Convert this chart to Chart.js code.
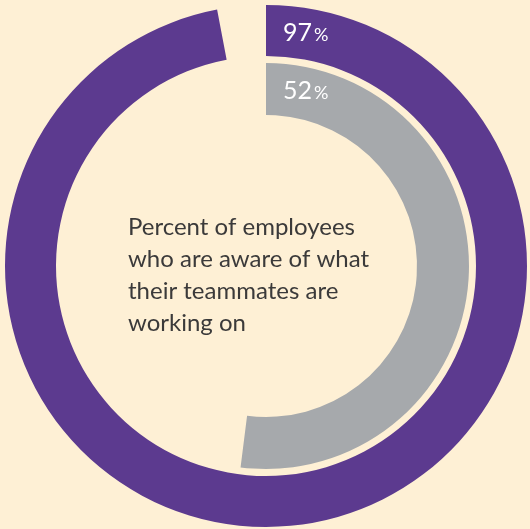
<!DOCTYPE html>
<html>
<head>
<meta charset="utf-8">
<script src="https://cdn.jsdelivr.net/npm/chart.js@4.4.1/dist/chart.umd.min.js"></script>
<style>
  html, body { margin: 0; padding: 0; background: #fef0d5; }
  .chart-wrapper { position: relative; width: 530px; height: 529px; }
</style>
</head>
<body>
<div class="chart-wrapper">
  <canvas id="awareness-chart"></canvas>
</div>
<script>
// Share of employees, company-wide vs. teammates' work
const ringLabels = ["Aware", "Not aware"];
const outerValues = [97, 3];
const innerValues = [52, 48];
const centerLines = [
  "Percent of employees",
  "who are aware of what",
  "their teammates are",
  "working on",
];

const PURPLE = "#5c3a8f";
const GREY = "#a6a9ac";
const BG = "#fef0d5";
const FONT = "Lato";

// Writes the percentage at the start of each ring, plus the caption in the hole
const ringText = {
  id: "ringText",
  afterDatasetsDraw(chart) {
    const { ctx } = chart;
    ctx.save();
    ctx.textBaseline = "alphabetic";
    ctx.textAlign = "left";
    [0, 2].forEach((dsIndex) => {
      const arc = chart.getDatasetMeta(dsIndex).data[0];
      const value = chart.data.datasets[dsIndex].data[0];
      const mid = (arc.innerRadius + arc.outerRadius) / 2;
      const x = arc.x + 17;
      const y = arc.y - mid + 10;
      ctx.fillStyle = "#ffffff";
      ctx.font = `400 25px ${FONT}`;
      const num = String(value);
      ctx.fillText(num, x, y);
      const w = ctx.measureText(num).width;
      ctx.font = `400 18px ${FONT}`;
      ctx.fillText("%", x + w + 2, y);
    });

    const center = chart.getDatasetMeta(0).data[0];
    ctx.fillStyle = "#3b3a3a";
    ctx.font = `400 24px ${FONT}`;
    centerLines.forEach((line, i) => {
      ctx.fillText(line, center.x - 138, center.y - 31 + i * 32);
    });
    ctx.restore();
  },
};

new Chart(document.getElementById("awareness-chart"), {
  type: "doughnut",
  data: {
    labels: ringLabels,
    datasets: [
      {
        data: outerValues,
        backgroundColor: [PURPLE, "rgba(0,0,0,0)"],
        borderWidth: 0,
        weight: 51,
      },
      {
        // empty band between the two rings
        data: [1],
        backgroundColor: ["rgba(0,0,0,0)"],
        borderWidth: 0,
        weight: 7,
      },
      {
        data: innerValues,
        backgroundColor: [GREY, "rgba(0,0,0,0)"],
        borderWidth: 0,
        weight: 52,
      },
    ],
  },
  options: {
    responsive: true,
    maintainAspectRatio: false,
    animation: false,
    cutout: "57.85%",
    layout: { padding: { left: 5, right: 3, top: 5, bottom: 2 } },
    plugins: {
      legend: { display: false },
      tooltip: { enabled: false },
    },
  },
  plugins: [ringText],
});
</script>
</body>
</html>
